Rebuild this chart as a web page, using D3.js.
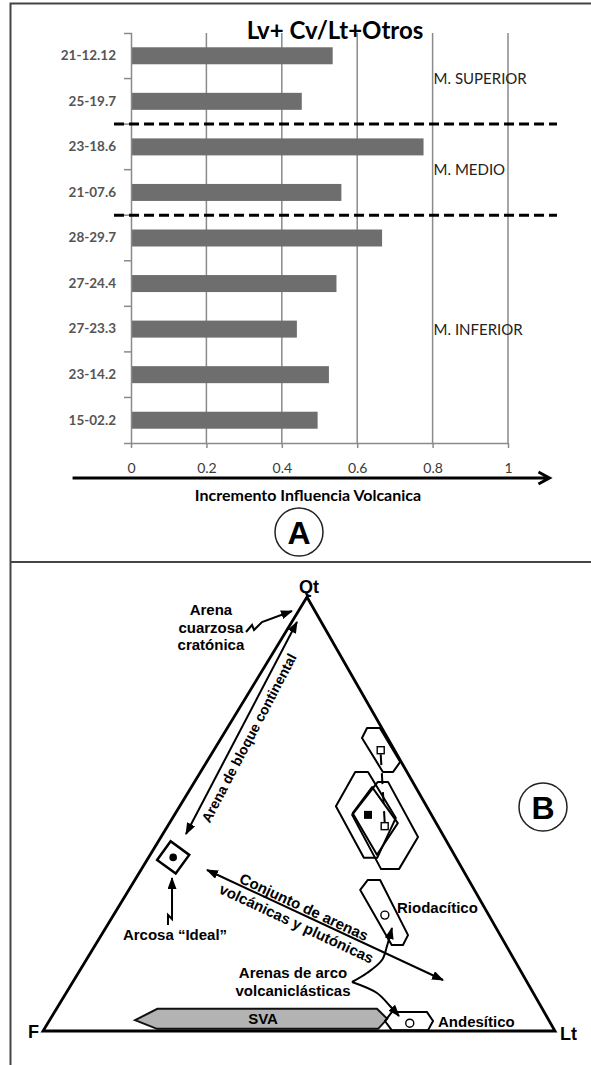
<!DOCTYPE html>
<html>
<head>
<meta charset="utf-8">
<script src="https://cdn.jsdelivr.net/npm/d3@7"></script>
<style>
body { margin: 0; background: #fff; }
svg { display: block; }
</style>
</head>
<body>
<svg id="chart" width="591" height="1065"></svg>
<script>
// ---------- panel A : bar chart
var samples = ["21-12.12", "25-19.7", "23-18.6", "21-07.6", "28-29.7", "27-24.4", "27-23.3", "23-14.2", "15-02.2"];
var ratio = [0.535, 0.453, 0.776, 0.558, 0.666, 0.545, 0.44, 0.525, 0.495];
var xTicks = [0, 0.2, 0.4, 0.6, 0.8, 1];
var members = ["M. SUPERIOR", "M. MEDIO", "M. INFERIOR"];
var memberFirst = [0, 2, 4];
var memberLast = [1, 3, 8];

// ---------- panel B : ternary Qt-F-Lt, points as [Qt, Lt] in %, F = 100 - Qt - Lt
var fieldUpper = [[69.8, 27.3], [69.8, 29.8], [62.0, 37.8], [59.7, 37.6], [59.7, 35.6], [67.5, 27.5]];
var fieldMix1 = [[59.7, 30.2], [59.7, 32.7], [49.1, 43.6], [39.9, 44.7], [39.9, 42.1], [51.8, 30.5]];
var fieldMix2 = [[57.4, 35.8], [57.4, 37.8], [44.7, 50.2], [37.3, 50.3], [37.3, 46.8], [49.8, 34.7]];
var fieldMean = [[50.2, 34.6], [56.2, 35.3], [47.9, 44.6], [40.6, 44.3]];
var fieldRio = [[32.5, 45.2], [34.8, 45.5], [34.8, 47.9], [22.1, 59.9], [19.8, 60.1], [19.8, 57.9]];
var fieldAnd = [[2.3, 65.6], [4.4, 65.9], [4.4, 72.7], [2.3, 75.0], [0.2, 75.1], [0.2, 68.0]];
var fieldSVA = [[2.5, 16.7], [5.1, 19.7], [5.1, 62.6], [2.8, 65.8], [0.5, 65.2], [0.5, 22.0]];
var arkose = [40, 4.8];
var meanPts = [[49.8, 37.8]];
var openSquares = [[64.7, 32.6], [47.2, 42.4]];
var openCircles = [[26.7, 53.0], [1.8, 70.7]];

// annotations in plain diagram units [x, y] (0-100 across the base / up to the apex)
var arrowCratonic = [[39.65, 91.94], [40.82, 93.55], [41.21, 92.40], [42.77, 94.24], [48.63, 96.77]];
var arrowBlock = [[49.61, 94.24], [27.93, 45.39]];
var arrowArkose = [[24.41, 24.42], [24.41, 26.73], [25.20, 25.81], [25.20, 35.25]];
var arrowMixed = [[32.03, 37.10], [78.13, 11.75]];
var curveToRio = [[60.35, 11.29], [63.28, 13.36], [66.21, 16.36], [67.19, 19.59], [68.16, 23.73]];
var curveToAnd = [[60.35, 11.29], [65.23, 8.76], [67.77, 5.76], [69.53, 3.46]];

var svg = d3.select("#chart");
var fontA = "Lato, 'Open Sans', sans-serif";
var fontB = "'Liberation Sans', Arial, sans-serif";

// frame
svg.append("path")
    .attr("d", "M591,3.5H10.5V1065M10.5,562H591")
    .attr("fill", "none")
    .attr("stroke", "#444")
    .attr("stroke-width", 2);

// ================= panel A
var x = d3.scaleLinear().domain([0, 1]).range([131, 508]);
var y = d3.scaleBand().domain(samples).range([33, 443]).paddingInner(0.627).paddingOuter(0.3135);
var step = y.step();
var y0 = y.range()[0];

var gA = svg.append("g");

gA.append("g").selectAll("line")
    .data(xTicks.slice(1))
    .enter().append("line")
    .attr("x1", d => x(d)).attr("x2", d => x(d))
    .attr("y1", y0).attr("y2", y.range()[1])
    .attr("stroke", "#8a8a8a").attr("stroke-width", 1.5);

gA.append("g").selectAll("rect")
    .data(samples)
    .enter().append("rect")
    .attr("x", x(0))
    .attr("y", d => y(d))
    .attr("width", (d, i) => x(ratio[i]) - x(0))
    .attr("height", y.bandwidth())
    .attr("fill", "#6e6e6e");

var xAxis = gA.append("g")
    .attr("transform", "translate(0," + y.range()[1] + ")")
    .call(d3.axisBottom(x).tickValues(xTicks).tickSize(5).tickSizeOuter(0).tickPadding(15).tickFormat(d3.format("")));
var yAxis = gA.append("g")
    .attr("transform", "translate(" + x(0) + ",0)")
    .call(d3.axisLeft(y).tickSize(0).tickSizeOuter(7).tickPadding(15));
[xAxis, yAxis].forEach(function(a) {
    a.selectAll("path, line").attr("stroke", "#8a8a8a").attr("stroke-width", 1.5);
    a.selectAll("text").attr("font-family", fontA).attr("font-size", 14).attr("fill", "#3a3a3a");
});
yAxis.selectAll("text").attr("font-size", 13.5).attr("font-weight", "bold").attr("fill", "#555");
// ticks between categories
gA.append("g").selectAll("line")
    .data(d3.range(1, samples.length))
    .enter().append("line")
    .attr("x1", x(0) - 7).attr("x2", x(0))
    .attr("y1", i => y0 + i * step).attr("y2", i => y0 + i * step)
    .attr("stroke", "#8a8a8a").attr("stroke-width", 1.5);

// member separators
gA.append("g").selectAll("line")
    .data(memberFirst.slice(1))
    .enter().append("line")
    .attr("x1", x(-0.045)).attr("x2", x(1.13))
    .attr("y1", i => y0 + i * step).attr("y2", i => y0 + i * step)
    .attr("stroke", "#000").attr("stroke-width", 3)
    .attr("stroke-dasharray", "10,5");

gA.append("g").selectAll("text")
    .data(members)
    .enter().append("text")
    .attr("x", x(0.8) + 1)
    .attr("y", (d, i) => y0 + (memberFirst[i] + memberLast[i] + 1) / 2 * step)
    .attr("dy", "0.36em")
    .attr("font-family", fontA).attr("font-size", 15).attr("fill", "#222")
    .text(d => d);

gA.append("text")
    .attr("x", 335).attr("y", 39)
    .attr("text-anchor", "middle")
    .attr("font-family", fontA).attr("font-size", 24).attr("font-weight", "bold")
    .text("Lv+ Cv/Lt+Otros");

// long axis arrow
var ay = 478, ax1 = x(-0.155), ax2 = x(1.11);
gA.append("path")
    .attr("d", "M" + ax1 + "," + ay + "H" + (ax2 - 1) + "M" + (ax2 - 11) + "," + (ay - 6) + "L" + ax2 + "," + ay + "L" + (ax2 - 11) + "," + (ay + 6))
    .attr("fill", "none").attr("stroke", "#000").attr("stroke-width", 3);
gA.append("text")
    .attr("x", 308).attr("y", 501)
    .attr("text-anchor", "middle")
    .attr("font-family", fontA).attr("font-size", 16).attr("font-weight", "bold")
    .text("Incremento Influencia Volcanica");

function panelTag(cx, cy, label) {
    svg.append("circle").attr("cx", cx).attr("cy", cy).attr("r", 24)
        .attr("fill", "none").attr("stroke", "#222").attr("stroke-width", 1.5);
    svg.append("text").attr("x", cx).attr("y", cy).attr("dy", "0.36em")
        .attr("text-anchor", "middle")
        .attr("font-family", fontB).attr("font-size", 32).attr("font-weight", "bold")
        .text(label);
}
panelTag(299, 532, "A");

// ================= panel B
var sx = d3.scaleLinear().domain([0, 100]).range([43, 555]);
var sy = d3.scaleLinear().domain([0, 100]).range([1031, 597]);
var apexU = 51.56;   // x position of the Qt vertex in diagram units
function tern(d) { return [sx(d[1] + d[0] * apexU / 100), sy(d[0])]; }
function pt(d) { return [sx(d[0]), sy(d[1])]; }

var gB = svg.append("g");
var defs = svg.append("defs");
defs.append("marker")
    .attr("id", "head")
    .attr("markerUnits", "userSpaceOnUse")
    .attr("viewBox", "0 0 12 9")
    .attr("refX", 11).attr("refY", 4.5)
    .attr("markerWidth", 12).attr("markerHeight", 9)
    .attr("orient", "auto-start-reverse")
    .append("path").attr("d", "M0,0L12,4.5L0,9Z").attr("fill", "#000");

var lineClosed = d3.line().curve(d3.curveLinearClosed);
var lineOpen = d3.line();
var lineSmooth = d3.line().curve(d3.curveCatmullRom);

gB.append("path")
    .attr("d", lineClosed(fieldSVA.map(tern)))
    .attr("fill", "#b3b3b3").attr("stroke", "#111").attr("stroke-width", 2);

gB.append("g").selectAll("path")
    .data([fieldUpper, fieldMix1, fieldMix2, fieldMean, fieldRio, fieldAnd])
    .enter().append("path")
    .attr("d", d => lineClosed(d.map(tern)))
    .attr("fill", "none").attr("stroke", "#000").attr("stroke-width", 2)
    .attr("stroke-linejoin", "round");

// triangle
gB.append("path")
    .attr("d", lineClosed([[100, 0], [0, 0], [0, 100]].map(tern)))
    .attr("fill", "none").attr("stroke", "#000").attr("stroke-width", 2.8);

// tie line between the two open squares
var s0 = tern(openSquares[0]), s1 = tern(openSquares[1]);
gB.append("line")
    .attr("x1", s0[0]).attr("y1", s0[1] + 4).attr("x2", s1[0]).attr("y2", s1[1] - 4)
    .attr("stroke", "#000").attr("stroke-width", 2).attr("stroke-dasharray", "11,8");

gB.append("g").selectAll("rect")
    .data(openSquares)
    .enter().append("rect")
    .attr("x", d => tern(d)[0] - 3.5).attr("y", d => tern(d)[1] - 3.5)
    .attr("width", 7).attr("height", 7)
    .attr("fill", "#fff").attr("stroke", "#000").attr("stroke-width", 1.4);
gB.append("g").selectAll("rect")
    .data(meanPts)
    .enter().append("rect")
    .attr("x", d => tern(d)[0] - 4).attr("y", d => tern(d)[1] - 4)
    .attr("width", 8).attr("height", 8)
    .attr("fill", "#000");
gB.append("g").selectAll("circle")
    .data(openCircles)
    .enter().append("circle")
    .attr("cx", d => tern(d)[0]).attr("cy", d => tern(d)[1]).attr("r", 4)
    .attr("fill", "#fff").attr("stroke", "#000").attr("stroke-width", 1.4);

var ak = tern(arkose);
gB.append("path")
    .attr("transform", "translate(" + ak[0] + "," + ak[1] + ") rotate(36)")
    .attr("d", d3.symbol(d3.symbolSquare, 23 * 23)())
    .attr("fill", "none").attr("stroke", "#000").attr("stroke-width", 2.5);
gB.append("circle").attr("cx", ak[0]).attr("cy", ak[1]).attr("r", 3.8).attr("fill", "#000");

// arrows
function arrow(pts, gen, both) {
    gB.append("path")
        .attr("d", gen(pts.map(pt)))
        .attr("fill", "none").attr("stroke", "#000").attr("stroke-width", 2)
        .attr("marker-end", "url(#head)")
        .attr("marker-start", both ? "url(#head)" : null);
}
arrow(arrowCratonic, lineOpen, false);
arrow(arrowBlock, lineOpen, true);
arrow(arrowArkose, lineOpen, false);
arrow(arrowMixed, lineOpen, true);
arrow(curveToRio, lineSmooth, false);
arrow(curveToAnd, lineSmooth, false);

function label(p, txt, opts) {
    var q = pt(p);
    var t = gB.append("text")
        .attr("x", q[0]).attr("y", q[1])
        .attr("font-family", fontB).attr("font-weight", "bold")
        .attr("font-size", opts.size || 15)
        .attr("text-anchor", opts.anchor || "middle")
        .attr("dy", opts.dy || 0);
    if (opts.angle) t.attr("transform", "rotate(" + opts.angle + "," + q[0] + "," + q[1] + ")");
    [].concat(txt).forEach(function(s, i) {
        t.append("tspan").attr("x", q[0]).attr("dy", i ? 17.5 : null).text(s);
    });
    return t;
}
function angleOf(a, b) {
    var p = pt(a), q = pt(b);
    return Math.atan2(q[1] - p[1], q[0] - p[0]) * 180 / Math.PI;
}

label([32.8, 95.85], ["Arena", "cuarzosa", "cratónica"], {});
label([40.23, 67.51], "Arena de bloque continental", {size: 14, dy: "0.35em", angle: angleOf(arrowBlock[1], arrowBlock[0])});
label([25.78, 20.97], "Arcosa \u201cIdeal\u201d", {});
label([50.98, 28.57], "Conjunto de arenas", {dy: "0.35em", angle: angleOf(arrowMixed[0], arrowMixed[1])});
label([49.51, 24.77], "volcánicas y plutónicas", {dy: "0.35em", angle: angleOf(arrowMixed[0], arrowMixed[1])});
label([69.14, 27.19], "Riodacítico", {anchor: "start"});
label([48.83, 12.21], ["Arenas de arco", "volcaniclásticas"], {});
label([42.97, 2.76], "SVA", {dy: "0.35em"});
label([77.15, 0.92], "Andesítico", {anchor: "start"});

// vertex names
var vq = tern([100, 0]), vf = tern([0, 0]), vl = tern([0, 100]);
[[vq[0] + 2, vq[1] - 4, "Qt", "middle"], [vf[0] - 4, vf[1] + 7, "F", "end"], [vl[0] + 5, vl[1] + 9, "Lt", "start"]]
    .forEach(function(v) {
        gB.append("text").attr("x", v[0]).attr("y", v[1])
            .attr("text-anchor", v[3])
            .attr("font-family", fontB).attr("font-size", 18).attr("font-weight", "bold")
            .text(v[2]);
    });

panelTag(543, 807, "B");
</script>
</body>
</html>
